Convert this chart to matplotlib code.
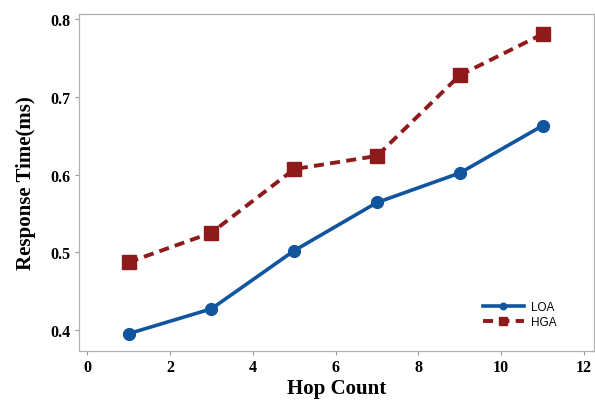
import matplotlib
matplotlib.use("Agg")
import matplotlib.pyplot as plt

hops = [1, 3, 5, 7, 9, 11]
loa = [0.395, 0.427, 0.502, 0.564, 0.602, 0.663]
hga = [0.487, 0.525, 0.607, 0.624, 0.728, 0.781]

xticks = [0, 2, 4, 6, 8, 10, 12]
yticks = [0.4, 0.5, 0.6, 0.7, 0.8]

serif = ['Liberation Serif', 'DejaVu Serif']

fig = plt.figure(figsize=(5.95, 4.02), dpi=100)
ax = fig.add_axes([0.1333, 0.125, 0.865, 0.838])

ax.plot(hops, loa, color='#11559f', lw=2.6, marker='o', ms=8.5, label='LOA')
ax.plot(hops, hga, color='#8e1a1c', lw=2.8, ls=(0, (2.6, 1.6)), marker='s', ms=9.5, label='HGA')

ax.set_xlim(-0.19, 12.24)
ax.set_ylim(0.373, 0.807)
ax.set_xticks(xticks)
ax.set_yticks(yticks)
ax.set_xticklabels([str(t) for t in xticks], fontfamily=serif, fontweight='bold', fontsize=11.5)
ax.set_yticklabels(['%.1f' % t for t in yticks], fontfamily=serif, fontweight='bold', fontsize=11.5)
ax.tick_params(direction='out', length=3, width=0.8, color='#999999', pad=3)

for s in ax.spines.values():
    s.set_color('#b0b0b0')
    s.set_linewidth(0.9)

ax.set_xlabel('Hop Count', fontfamily=serif, fontweight='bold', fontsize=15, labelpad=2)
ax.set_ylabel('Response Time(ms)', fontfamily=serif, fontweight='bold', fontsize=15, labelpad=11)

leg = ax.legend(loc='lower right', bbox_to_anchor=(0.948, 0.035), frameon=False,
                prop={'family': 'Liberation Sans', 'size': 8.5}, handlelength=3.5,
                markerscale=0.55, labelspacing=0.3, handletextpad=0.6)

fig.savefig('out.png', dpi=100)
